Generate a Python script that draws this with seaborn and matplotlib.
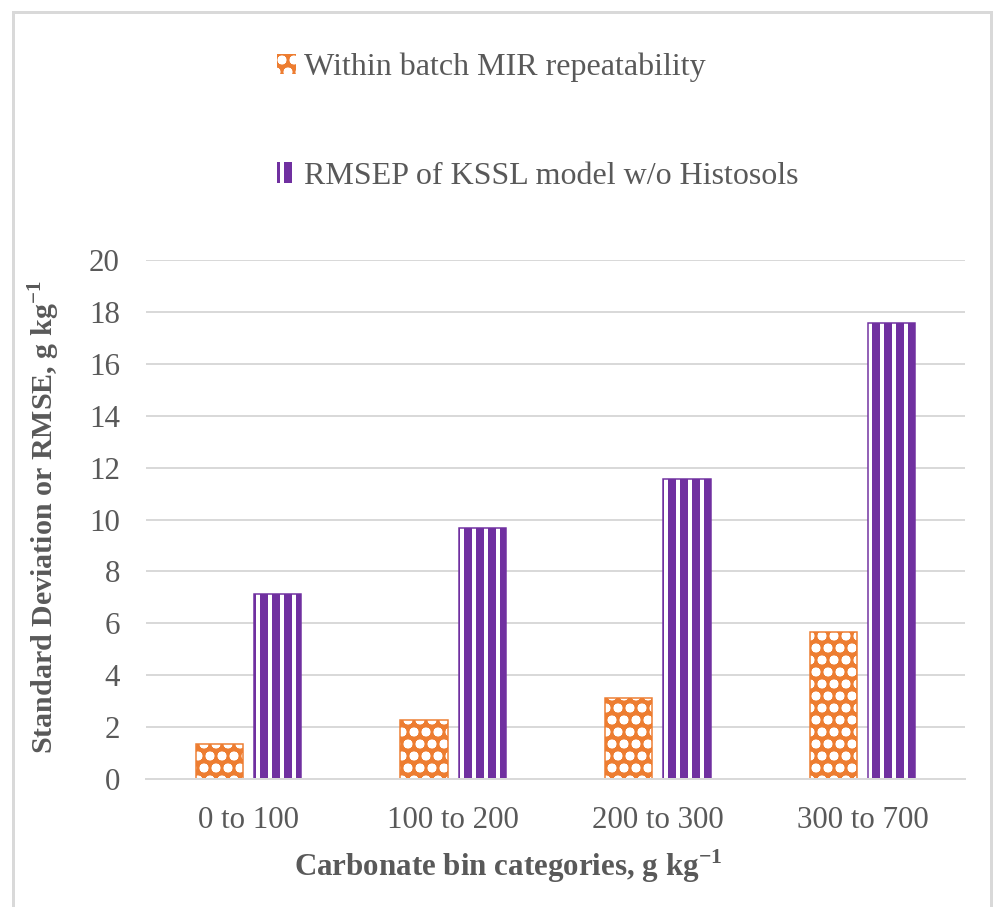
import matplotlib
matplotlib.use("Agg")
import matplotlib.pyplot as plt
import numpy as np
import pandas as pd
import seaborn as sns
from matplotlib.patches import Rectangle

bins = ['0 to 100', '100 to 200', '200 to 300', '300 to 700']
series = ['Within batch MIR repeatability', 'RMSEP of KSSL model w/o Histosols']
repeatability = [1.35, 2.27, 3.12, 5.66]
rmsep = [7.13, 9.67, 11.56, 17.57]
yticks = [0, 2, 4, 6, 8, 10, 12, 14, 16, 18, 20]

ORANGE = '#ED7D31'
PURPLE = '#7030A0'
GREY = '#595959'

sns.set_style('white')
plt.rcParams['font.family'] = ['Liberation Serif', 'DejaVu Serif']
plt.rcParams['mathtext.fontset'] = 'custom'
plt.rcParams['mathtext.rm'] = 'Liberation Serif'
plt.rcParams['mathtext.bf'] = 'Liberation Serif:bold'
plt.rcParams['hatch.linewidth'] = 4.0

df = pd.DataFrame({
    'bin': bins * 2,
    'value': repeatability + rmsep,
    'series': [series[0]] * 4 + [series[1]] * 4,
})

fig = plt.figure(figsize=(995 / 72, 907 / 72), dpi=72)
ax = fig.add_axes([146 / 995, 1 - 779 / 907, (965 - 146) / 995, (779 - 260) / 907])

sns.barplot(data=df, x='bin', y='value', hue='series', order=bins, hue_order=series,
            palette=[ORANGE, PURPLE], width=0.57, gap=0.19, ax=ax, legend=False,
            saturation=1)

hatches = {ORANGE: 'o', PURPLE: '|'}
n = len(bins)
for i, bar in enumerate(ax.patches[:2 * n]):
    col = ORANGE if i < n else PURPLE
    bar.set_facecolor(col)
    bar.set_edgecolor('white')
    bar.set_hatch(hatches[col])
    bar.set_linewidth(0)
    x, y = bar.get_x(), bar.get_y()
    ax.add_patch(Rectangle((x, y), bar.get_width(), bar.get_height(), fill=False,
                           edgecolor=col, linewidth=1.5, zorder=bar.get_zorder() + 0.1))

ax.set_ylim(0, 20)
ax.set_yticks(yticks)
ax.set_xlim(-0.5, n - 0.5)
ax.yaxis.grid(True, color='#d9d9d9', linewidth=2)
ax.set_axisbelow(True)
for s in ['top', 'right', 'left']:
    ax.spines[s].set_visible(False)
ax.spines['bottom'].set_color('#d9d9d9')
ax.spines['bottom'].set_linewidth(2)
ax.tick_params(axis='both', length=0, labelsize=31, labelcolor=GREY)
ax.tick_params(axis='y', pad=26)
ax.tick_params(axis='x', pad=27)

ax.set_ylabel('Standard Deviation or RMSE, g kg$^{\\mathbf{-1}}$', fontsize=30,
              fontweight='bold', color=GREY)
ax.yaxis.set_label_coords((62 - 146) / (965 - 146), 0.505)
ax.set_xlabel('Carbonate bin categories, g kg$^{\\mathbf{-1}}$', fontsize=31,
              fontweight='bold', color=GREY)
ax.xaxis.set_label_coords((508 - 146) / (965 - 146), -0.131)

handles = [Rectangle((0, 0), 1, 1, facecolor=ORANGE, edgecolor='white', hatch='o', linewidth=0),
           Rectangle((0, 0), 1, 1, facecolor=PURPLE, edgecolor='white', hatch='|', linewidth=0)]
fig.legend(handles, series, loc='upper left', bbox_to_anchor=(277 / 995, 1 - 53 / 907),
           frameon=False, fontsize=32, labelcolor=GREY, handlelength=0.6, handleheight=0.6,
           handletextpad=0.25, labelspacing=2.48, borderpad=0, borderaxespad=0)

fig.patches.append(Rectangle((13 / 995, -0.1), (991 - 13) / 995, 1.1 - 12 / 907,
                             transform=fig.transFigure, fill=False, edgecolor='#d9d9d9',
                             linewidth=3))

fig.savefig('out.png', dpi=72, facecolor='white')
